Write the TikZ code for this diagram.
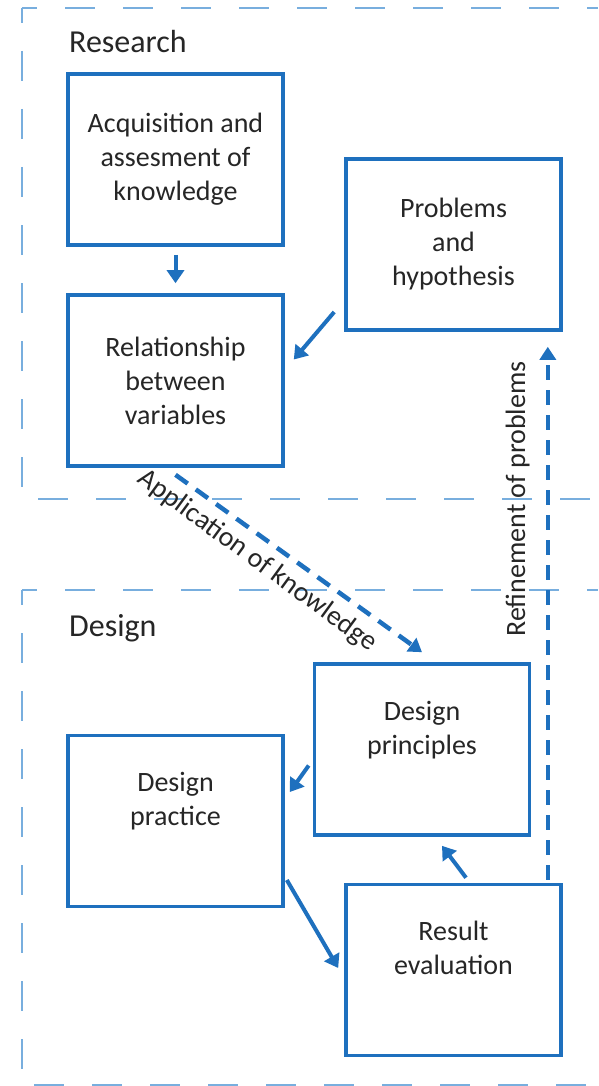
\documentclass[tikz,border=0pt]{standalone}
\usepackage{fontspec}
\setmainfont{Carlito}
\usetikzlibrary{calc,arrows.meta}
\definecolor{boxblue}{RGB}{30,112,190}
\definecolor{regblue}{RGB}{120,174,222}
\definecolor{txt}{RGB}{38,38,38}
\begin{document}
\begin{tikzpicture}[x=1pt,y=-1pt,
  box/.style={draw=boxblue, line width=3.6pt, minimum width=215pt, minimum height=171pt,
    align=center, text=txt, font=\fontsize{28}{34}\selectfont, inner sep=0pt},
  heading/.style={anchor=base west, text=txt, font=\fontsize{32}{38}\selectfont, inner sep=0pt},
  lbl/.style={text=txt, font=\fontsize{28}{34}\selectfont, inner sep=0pt},
  region/.style={draw=regblue, line width=1.8pt, dash pattern=on 30pt off 28pt, dash phase=15pt},
  arr/.style={draw=boxblue, line width=4pt, -{Triangle[length=13pt,width=17pt]}},
  darr/.style={draw=boxblue, line width=4.5pt, dash pattern=on 15pt off 10pt, -{Triangle[length=13pt,width=16pt]}}]
\useasboundingbox (0,0) rectangle (598,1086);
\fill[white] (0,0) rectangle (598,1086);
% regions
\coordinate (r1) at (22,8);
\coordinate (r2) at (22,499);
\coordinate (r3) at (598,499);
\coordinate (r4) at (598,8);
\coordinate (d1) at (22,590);
\coordinate (d2) at (22,1085);
\coordinate (d3) at (598,1085);
\coordinate (d4) at (598,590);
\draw[region] (r1) -- (r4);
\draw[region] (r1) -- (r2) -- (r3);
\draw[region] (d1) -- (d4);
\draw[region] (d1) -- (d2) -- (d3);
\node[heading] (rh) at (69,53) {Research};
\node[heading] (dh) at (69,636) {Design};
% boxes
\node[box] (acq) at (175.5,159.5) {Acquisition and\\assesment of\\knowledge};
\node[box] (rel) at (175.5,380.5) {Relationship\\between\\variables};
\node[box] (prob) at (453.5,244.5) {Problems\\and\\hypothesis};
\node[box] (dp) at (422,749.5) {Design\\principles\\\strut};
\node[box] (dpr) at (175.5,821) {Design\\practice\\\strut};
\node[box] (res) at (453.5,970) {Result\\evaluation\\\strut};
% arrows
\draw[arr] ($(acq.south)+(0,8)$) -- ($(rel.north)+(0,-10)$);
\draw[arr] ($(prob.west)+(-10,67.5)$) -- ($(rel.east)+(9,-21)$);
\draw[arr] ($(dp.west)+(-4,16)$) -- ($(dpr.east)+(5,-29)$);
\draw[arr] ($(dpr.east)+(2,59)$) -- ($(res.west)+(-6,-2)$);
\draw[arr] ($(res.north)+(12.5,-5)$) -- ($(dp.south)+(20,9)$);
% dashed arrows
\draw[darr] ($(rel.south)+(0,7)$) -- ($(dp.north)+(0,-10)$);
\draw[darr] ($(res.north east)+(-15,-3)$) -- ($(prob.south east)+(-15,15)$);
\node[lbl, rotate=-36.2, anchor=base] (app) at (253,567) {Application of knowledge};
\node[lbl, rotate=90, anchor=base] (ref) at (525,499) {Refinement of problems};
\end{tikzpicture}
\end{document}
